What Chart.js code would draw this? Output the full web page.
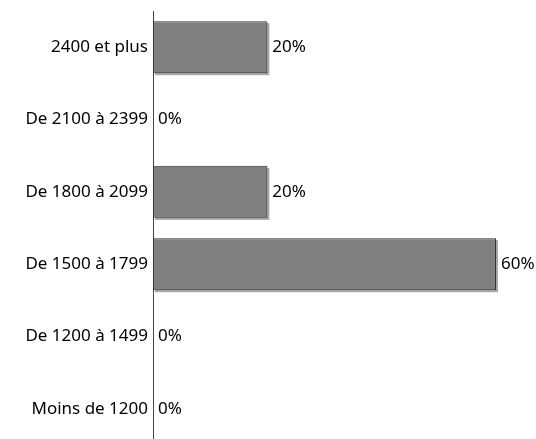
<!DOCTYPE html>
<html>
<head>
<meta charset="utf-8">
<script src="https://cdn.jsdelivr.net/npm/chart.js@4"></script>
<style>
  html, body { margin: 0; padding: 0; background: #fff; overflow: hidden; }
  canvas { display: block; }
</style>
</head>
<body>
<canvas id="myChart" width="536" height="445"></canvas>
<script>
const categories = ['2400 et plus', 'De 2100 à 2399', 'De 1800 à 2099', 'De 1500 à 1799', 'De 1200 à 1499', 'Moins de 1200'];
const percents = [20, 0, 20, 60, 0, 0];

const fontFamily = 'Noto Sans';
const fontSize = 17;

// value labels at the end of each bar
const valueLabels = {
  id: 'valueLabels',
  afterDatasetsDraw(chart) {
    const ctx = chart.ctx;
    const meta = chart.getDatasetMeta(0);
    ctx.save();
    ctx.font = fontSize + 'px "' + fontFamily + '"';
    ctx.fillStyle = '#000';
    ctx.textBaseline = 'middle';
    ctx.textAlign = 'left';
    meta.data.forEach((bar, i) => {
      ctx.fillText(percents[i] + '%', bar.x + 5, bar.y);
    });
    ctx.restore();
  }
};

// grey drop shadow behind the bars (right and bottom)
const barShadow = {
  id: 'barShadow',
  beforeDatasetsDraw(chart) {
    const ctx = chart.ctx;
    const meta = chart.getDatasetMeta(0);
    ctx.save();
    ctx.fillStyle = '#a8a8a8';
    meta.data.forEach((bar, i) => {
      if (!percents[i]) return;
      const h = bar.height;
      ctx.fillRect(bar.base + 2, bar.y - h / 2 + 2, bar.x - bar.base, h);
    });
    ctx.restore();
  }
};

const cfg = {
  type: 'bar',
  data: {
    labels: categories,
    datasets: [{
      data: percents,
      backgroundColor: '#808080',
      borderColor: '#333',
      borderWidth: 1,
      borderSkipped: false,
      categoryPercentage: 1,
      barPercentage: 0.72
    }]
  },
  options: {
    indexAxis: 'y',
    responsive: false,
    animation: false,
    devicePixelRatio: 1,
    layout: { padding: { top: 11, right: 40, bottom: 0, left: 0 } },
    plugins: { legend: { display: false }, tooltip: { enabled: false } },
    scales: {
      x: { display: false, min: 0, max: 60 },
      y: {
        grid: { display: false, drawTicks: false },
        border: { display: true, color: '#444', width: 1 },
        ticks: { color: '#000', font: { family: fontFamily, size: fontSize }, padding: 5 },
        afterFit(scale) {
          scale.width = 153;
          scale.paddingTop = 0;
          scale.paddingBottom = 0;
        }
      }
    }
  },
  plugins: [barShadow, valueLabels]
};

let chart = new Chart(document.getElementById('myChart'), cfg);
</script>
</body>
</html>
